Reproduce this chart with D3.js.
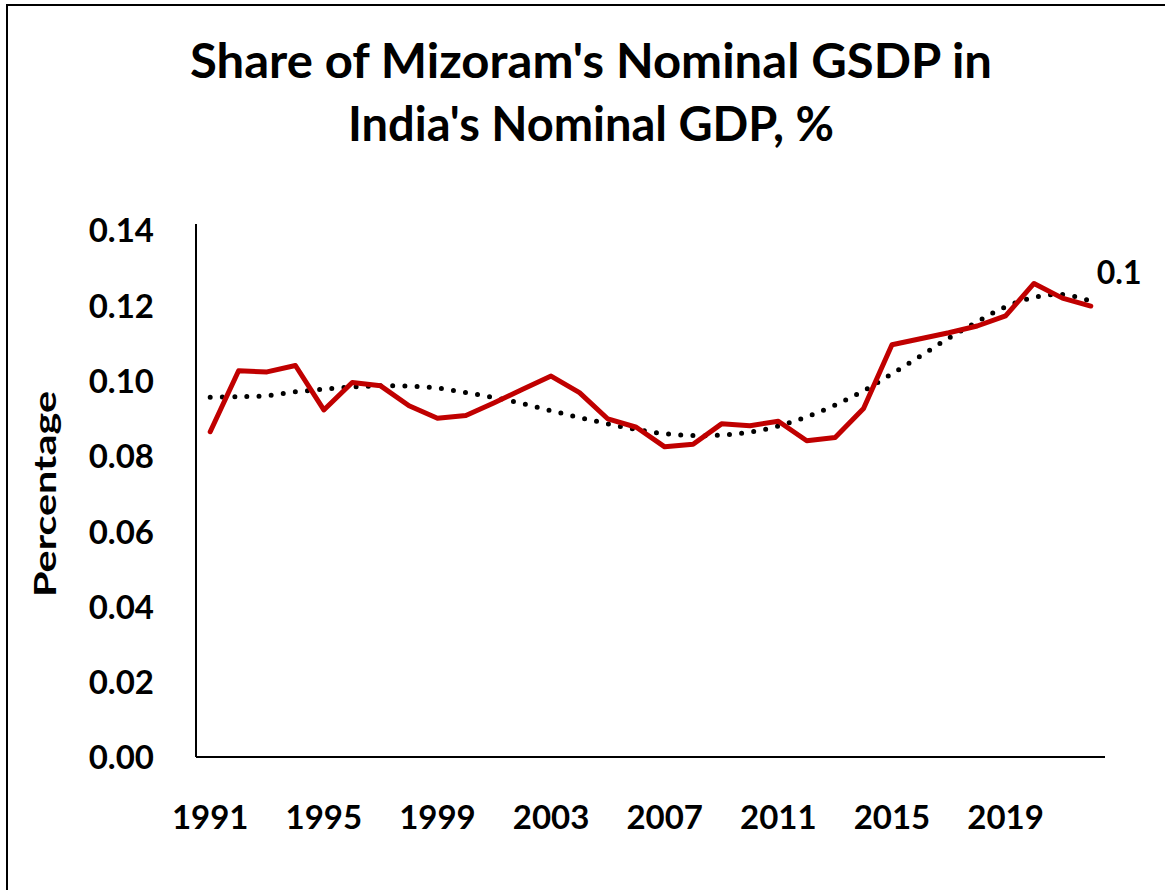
<!DOCTYPE html>
<html>
<head>
<meta charset="utf-8">
<script src="https://cdn.jsdelivr.net/npm/d3@7"></script>
<style>
  html, body { margin: 0; padding: 0; background: #fff; }
  svg { display: block; }
  text { font-family: Lato, "Open Sans", sans-serif; font-weight: 700; fill: #000; }
</style>
</head>
<body>
<svg id="chart" width="1165" height="890"></svg>
<script>
const years = d3.range(1991, 2023);
const shareValues = [0.0864, 0.1026, 0.1023, 0.1040, 0.0922, 0.0995, 0.0986, 0.0933, 0.0900, 0.0907,
  0.0941, 0.0977, 0.1012, 0.0968, 0.0898, 0.0876, 0.0824, 0.0831, 0.0885, 0.0880,
  0.0892, 0.0840, 0.0849, 0.0926, 0.1095, 0.1111, 0.1127, 0.1145, 0.1172, 0.1258,
  0.1219, 0.1198];
const trendValues = [0.0956, 0.0957, 0.0960, 0.0970, 0.0977, 0.0983, 0.0986, 0.0985, 0.0980, 0.0968,
  0.0955, 0.0939, 0.0920, 0.0902, 0.0885, 0.0870, 0.0859, 0.0854, 0.0855, 0.0863,
  0.0879, 0.0904, 0.0935, 0.0973, 0.1018, 0.1065, 0.1113, 0.1156, 0.1196, 0.1221,
  0.1229, 0.1211];
const yTicks = [0, 0.02, 0.04, 0.06, 0.08, 0.10, 0.12, 0.14];
const xTickYears = [1991, 1995, 1999, 2003, 2007, 2011, 2015, 2019];
const titleLines = ["Share of Mizoram's Nominal GSDP in", "India's Nominal GDP, %"];
const yAxisTitle = "Percentage";
const endLabel = "0.1";

const svg = d3.select("#chart");

// outer frame
svg.append("rect").attr("x", 7).attr("y", 5).attr("width", 1200).attr("height", 900)
  .attr("fill", "none").attr("stroke", "#000").attr("stroke-width", 2);

const m = { left: 196, right: 1105, top: 224, bottom: 757 };
const x = d3.scaleBand().domain(years).range([m.left, m.right]);
const y = d3.scaleLinear().domain([0, 0.14]).range([m.bottom, 230]);

// title
const titleWidths = [802, 486];
const titleBase = [78, 141];
const title = svg.append("g");
titleLines.forEach((t, i) => {
  title.append("text").attr("x", 591).attr("y", titleBase[i])
    .attr("text-anchor", "middle").attr("font-size", 47)
    .attr("textLength", titleWidths[i]).attr("lengthAdjust", "spacingAndGlyphs").text(t);
});

// y axis
const yAxis = svg.append("g").attr("transform", `translate(${m.left},0)`)
  .call(d3.axisLeft(y).tickValues(yTicks).tickFormat(d3.format(".2f")).tickSize(0).tickPadding(42));
yAxis.select(".domain").attr("stroke", "#000").attr("stroke-width", 2).attr("d", `M0,${m.top}V${m.bottom}`);
yAxis.selectAll("text").attr("font-size", 33).attr("dy", "0.36em")
  .style("font-family", "Lato, sans-serif").style("font-weight", 700);

// x axis
const xAxis = svg.append("g").attr("transform", `translate(0,${m.bottom})`)
  .call(d3.axisBottom(x).tickValues(xTickYears).tickSize(0).tickPadding(49));
xAxis.select(".domain").attr("stroke", "#000").attr("stroke-width", 2).attr("d", `M${m.left},0H${m.right}`);
xAxis.selectAll("text").attr("font-size", 33)
  .style("font-family", "Lato, sans-serif").style("font-weight", 700);

// y axis title
svg.append("text").attr("transform", "translate(56,494) rotate(-90)")
  .attr("text-anchor", "middle").attr("font-size", 31)
  .attr("textLength", 206).attr("lengthAdjust", "spacingAndGlyphs").text(yAxisTitle);

const cx = d => x(d) + x.bandwidth() / 2;

// trend (dotted)
svg.append("path").datum(trendValues.map((v, i) => [years[i], v]))
  .attr("fill", "none").attr("stroke", "#000").attr("stroke-width", 5)
  .attr("stroke-linecap", "round").attr("stroke-dasharray", "0 12.2")
  .attr("d", d3.line().x(d => cx(d[0])).y(d => y(d[1])).curve(d3.curveCatmullRom));

// main series
svg.append("path").datum(shareValues.map((v, i) => [years[i], v]))
  .attr("fill", "none").attr("stroke", "#C00000").attr("stroke-width", 5)
  .attr("stroke-linejoin", "round").attr("stroke-linecap", "round")
  .attr("d", d3.line().x(d => cx(d[0])).y(d => y(d[1])));

// end label
svg.append("text").attr("x", cx(years[years.length - 1]) + 6).attr("y", 284)
  .attr("font-size", 32).text(endLabel);
</script>
</body>
</html>
